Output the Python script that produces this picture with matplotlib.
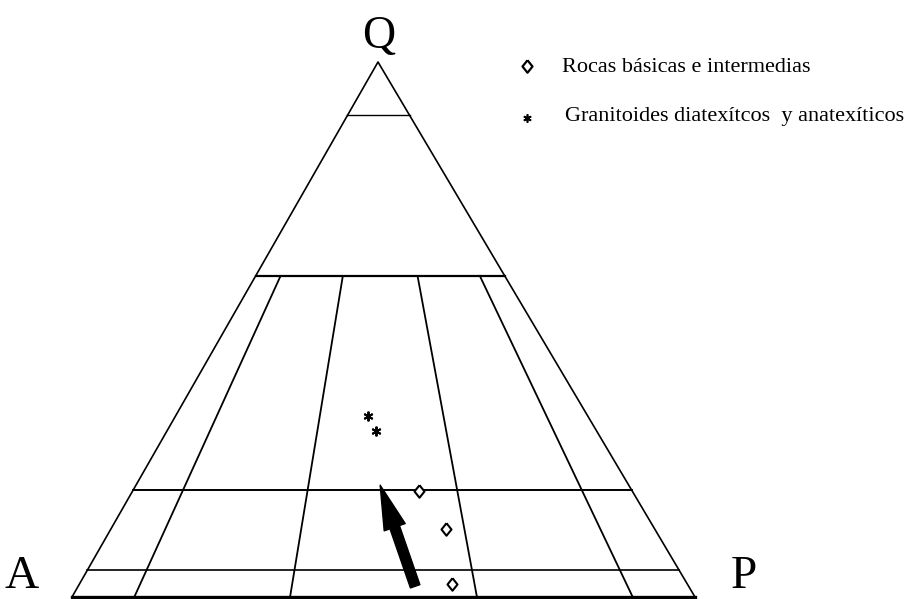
import numpy as np
import matplotlib.pyplot as plt

plt.rcParams['font.family'] = ['Liberation Serif', 'DejaVu Serif']

# Puntos en porcentaje (Q, A, P)
rocas_basicas_Q = [19.8, 12.7, 2.4]
rocas_basicas_A = [34.2, 33.5, 37.8]
rocas_basicas_P = [46.0, 53.8, 59.8]

granitoides_Q = [33.8, 31.0]
granitoides_A = [35.3, 35.5]
granitoides_P = [30.9, 33.5]

# flecha: cola -> punta (Q, A, P)
flecha_cola = (2.0, 43.9, 54.1)
flecha_punta = (20.9, 39.9, 39.2)

# divisiones del diagrama QAP
lineas_Q = [90, 60, 20, 5]
lineas_ratio = [10, 35, 65, 90]   # P/(A+P) en %
Q_max_ratio = 60

leyenda = ['Rocas básicas e intermedias', 'Granitoides diatexítcos  y anatexíticos']

# geometria del triangulo (vertice Q algo a la izquierda, como en el original)
qx = 306 / 623
h = 535 / 623


def tern(q, a, p):
    q = np.asarray(q, float); a = np.asarray(a, float); p = np.asarray(p, float)
    s = q + a + p
    return (p + q * qx) / s, q / s * h


fig = plt.figure(figsize=(9.18, 5.99), dpi=100)
ax = fig.add_axes([0, 0, 1, 1])
ax.set_xlim(-72 / 623, (918 - 72) / 623)
ax.set_ylim(-2 / 623, 597 / 623)
ax.axis('off')

# triangulo
x, y = tern([0, 100, 0], [100, 0, 0], [0, 0, 100])
ax.plot([x[0], x[1], x[2]], [y[0], y[1], y[2]], color='black', lw=1.2)
ax.plot([x[0], x[2]], [y[0], y[2]], color='black', lw=2.4)

for q, lw in zip(lineas_Q, [1.0, 1.6, 1.4, 1.2]):
    x, y = tern([q, q], [100 - q, 0], [0, 100 - q])
    ax.plot(x, y, color='black', lw=lw)

for r in lineas_ratio:
    q0 = Q_max_ratio
    x, y = tern([q0, 0], [(100 - q0) * (1 - r / 100), 100 - r], [(100 - q0) * r / 100, r])
    ax.plot(x, y, color='black', lw=1.3)

rombo = [(0, 1), (0.8, 0), (0, -1), (-0.8, 0), (0, 1)]

# datos
x, y = tern(rocas_basicas_Q, rocas_basicas_A, rocas_basicas_P)
ax.plot(x, y, ls='none', marker=rombo, mfc='white', mec='black', ms=9, mew=1.5)
x, y = tern(granitoides_Q, granitoides_A, granitoides_P)
ax.plot(x, y, marker=(6, 2, 0), ls='none', color='black', ms=7, mew=1.4)

xc, yc = tern(*flecha_cola)
xp, yp = tern(*flecha_punta)
ax.annotate('', xy=(xp, yp), xytext=(xc, yc),
            arrowprops=dict(arrowstyle='simple,head_length=1.6,head_width=0.8,tail_width=0.36',
                            color='black', shrinkA=0, shrinkB=0, mutation_scale=20))

# vertices
ax.text(379 / 918, 1 - 48 / 599, 'Q', transform=ax.transAxes, ha='center', va='baseline', fontsize=33)
ax.text(22 / 918, 1 - 598 / 599, 'A', transform=ax.transAxes, ha='center', va='bottom', fontsize=34)
ax.text(744 / 918, 1 - 598 / 599, 'P', transform=ax.transAxes, ha='center', va='bottom', fontsize=34)

# leyenda
ax.plot([527 / 918], [1 - 66 / 599], ls='none', marker=rombo, mfc='white', mec='black', ms=9, mew=1.6,
        transform=ax.transAxes)
ax.plot([527 / 918], [1 - 118 / 599], marker=(6, 2, 0), color='black', ms=6, mew=1.2, transform=ax.transAxes)
ax.text(562 / 918, 1 - 67 / 599, leyenda[0], transform=ax.transAxes, va='center', fontsize=16)
ax.text(565 / 918, 1 - 117 / 599, leyenda[1], transform=ax.transAxes, va='center', fontsize=16)

plt.savefig('out.png', dpi=100)
